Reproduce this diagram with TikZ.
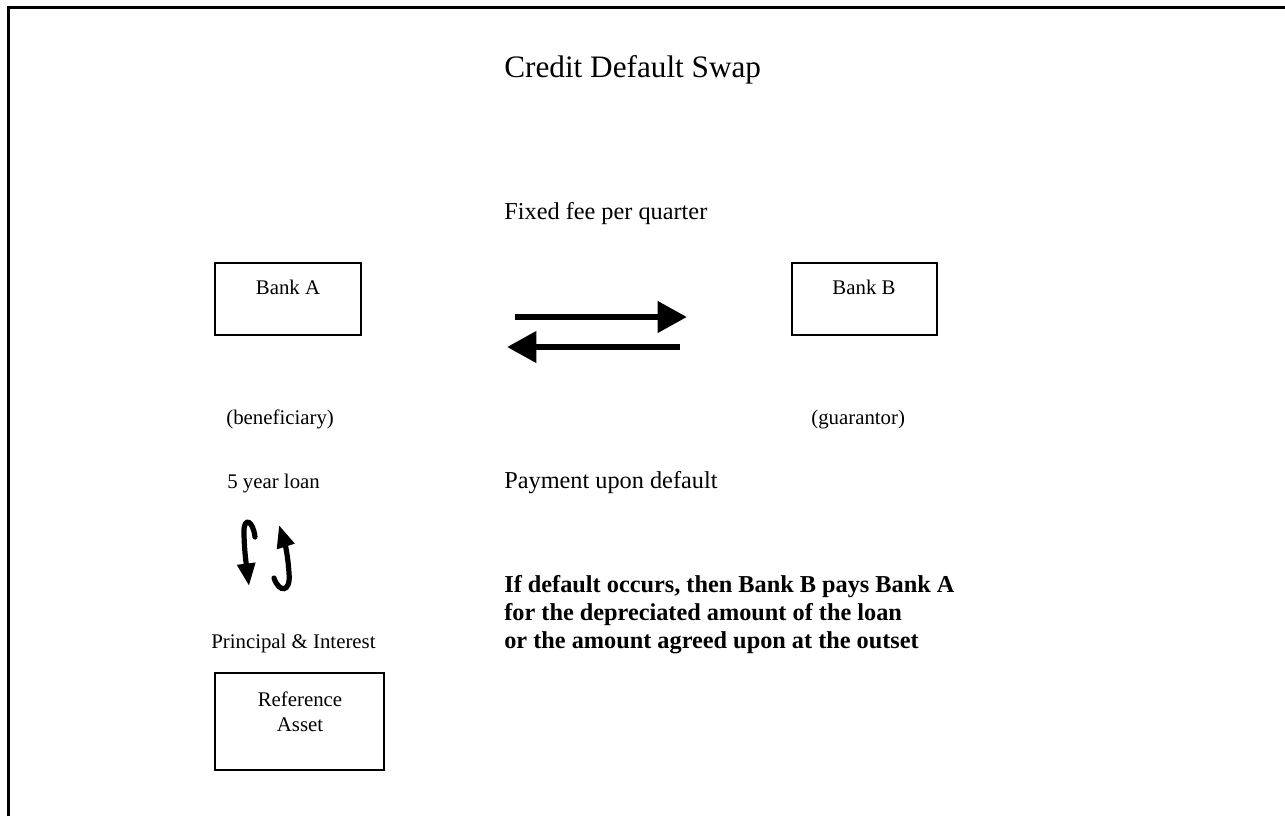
\documentclass[tikz,border=0pt]{standalone}
\usepackage{fontspec}
\setmainfont{Liberation Serif}
\usetikzlibrary{arrows.meta}
\tikzset{
  box/.style={draw, line width=1.3pt},
  frameline/.style={line width=1.2pt},
  txt/.style={inner sep=0pt, font=\fontsize{12}{14}\selectfont},
  bigtxt/.style={inner sep=0pt, font=\fontsize{14}{16}\selectfont},
  boldtxt/.style={inner sep=0pt, font=\fontsize{14}{16}\selectfont\bfseries},
  titletxt/.style={inner sep=0pt, font=\fontsize{18}{20}\selectfont},
  fatarrow/.style={line width=3.8pt, -{Triangle[length=17pt, width=17.5pt]}},
  curvearrow/.style={line width=3pt, line cap=round, -{Triangle[length=13pt, width=10pt]}}
}
\begin{document}
\begin{tikzpicture}[x=0.5764pt, y=-0.5764pt]
\useasboundingbox (0,0) rectangle (1285,816);
% frame
\draw[frameline] (8.5,816) -- (8.5,7.5) -- (1285,7.5);
% title
\node[titletxt, anchor=base west] (title) at (504,77) {Credit Default Swap};
\node[bigtxt, anchor=base west] (fee) at (504,219) {Fixed fee per quarter};
% banks
\draw[box] (215,263) rectangle (361,335);
\node[txt, anchor=base] (bankA) at (288,294) {Bank A};
\draw[box] (792,263) rectangle (937,335);
\node[txt, anchor=base] (bankB) at (864,294) {Bank B};
% straight arrows
\coordinate (r1) at (515,317);
\coordinate (r2) at (687,317);
\coordinate (l1) at (680,347);
\coordinate (l2) at (507,347);
\draw[fatarrow] (r1) -- (r2);
\draw[fatarrow] (l1) -- (l2);
% roles
\node[txt, anchor=base west] (benef) at (226,424) {(beneficiary)};
\node[txt, anchor=base west] (guar) at (811,424) {(guarantor)};
\node[txt, anchor=base west] (loan) at (227,488) {5 year loan};
\node[bigtxt, anchor=base west] (pay) at (504,488) {Payment upon default};
% curved arrows
\coordinate (a1) at (255,537);
\coordinate (a2) at (249,586);
\draw[curvearrow] (a1) .. controls (253,520) and (244,517) .. (244,531) .. controls (244,548) and (246,562) .. (a2);
\coordinate (b1) at (274,578);
\coordinate (b2) at (279,525);
\draw[curvearrow] (b1) .. controls (279,593) and (291,593) .. (289,573) .. controls (288,556) and (285,544) .. (b2);
% bold text
\node[boldtxt, anchor=base west] (d1) at (504,592) {If default occurs, then Bank B pays Bank A};
\node[boldtxt, anchor=base west] (d2) at (504,620) {for the depreciated amount of the loan};
\node[boldtxt, anchor=base west] (d3) at (504,648) {or the amount agreed upon at the outset};
% principal & reference
\node[txt, anchor=base west] (pi) at (211,648) {Principal \& Interest};
\draw[box] (215,673) rectangle (384,770);
\node[txt, anchor=base] (ref1) at (300,706) {Reference};
\node[txt, anchor=base] (ref2) at (300,731) {Asset};
\end{tikzpicture}
\end{document}
